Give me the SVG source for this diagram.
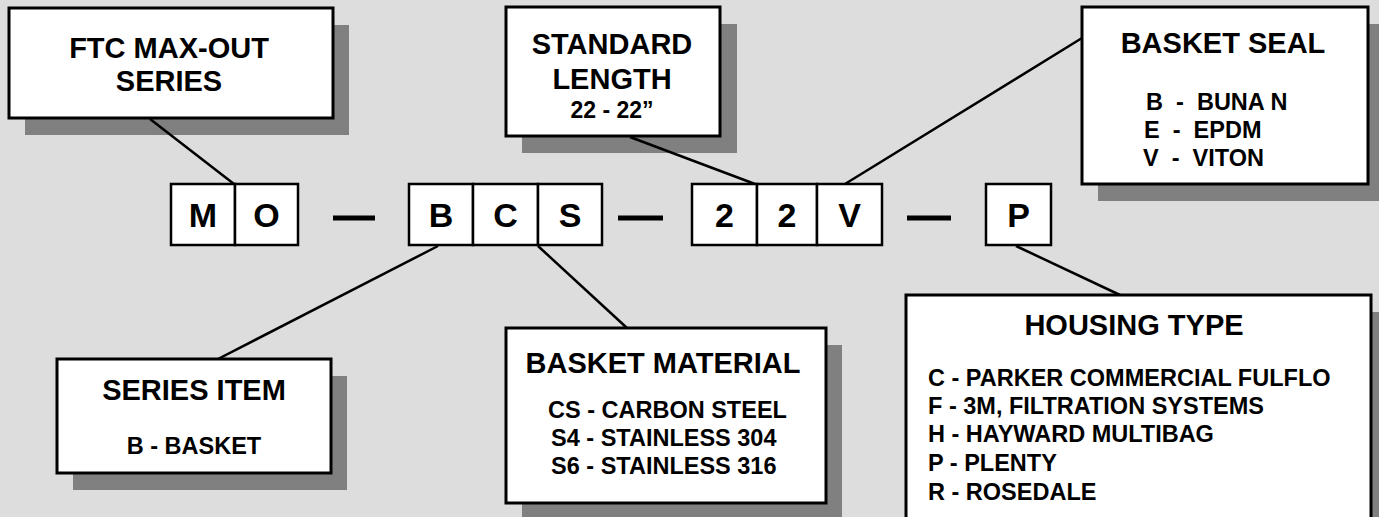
<svg xmlns="http://www.w3.org/2000/svg" width="1379" height="517" viewBox="0 0 1379 517">
<style>
.bg{fill:#dddddd}
.sh{fill:#808080}
.box{fill:#ffffff;stroke:#000000;stroke-width:3}
.cbox{fill:#ffffff;stroke:#000000;stroke-width:2.5}
.t{font-family:"Liberation Sans",Arial,sans-serif;font-weight:bold;fill:#000000}
.title{font-size:29px;text-anchor:middle}
.item{font-size:23.5px}
.code{font-size:34px;text-anchor:middle}
.con{stroke:#000000;stroke-width:2.5;fill:none}
.dash{stroke:#000000;stroke-width:5}
</style>
<rect class="bg" x="0" y="0" width="1379" height="517"/>

<g id="ftc">
<rect class="sh" x="25" y="25" width="324" height="110"/>
<rect class="box" x="9" y="8" width="324" height="110"/>
<text class="t title" x="169" y="58">FTC MAX-OUT</text>
<text class="t title" x="169" y="91">SERIES</text>
</g>

<g id="standard-length">
<rect class="sh" x="522" y="24" width="215" height="129"/>
<rect class="box" x="506" y="7" width="214" height="129"/>
<text class="t title" x="612" y="54">STANDARD</text>
<text class="t title" x="612" y="89">LENGTH</text>
<text class="t" x="612" y="118" font-size="23" text-anchor="middle">22 - 22”</text>
</g>

<g id="basket-seal">
<rect class="sh" x="1098" y="24" width="286" height="177"/>
<rect class="box" x="1082" y="7" width="286" height="177"/>
<text class="t title" x="1223" y="53">BASKET SEAL</text>
<text class="t item" x="1146" y="110" xml:space="preserve">B  -  BUNA N</text>
<text class="t item" x="1144" y="138" xml:space="preserve">E  -  EPDM</text>
<text class="t item" x="1143" y="166" xml:space="preserve">V  -  VITON</text>
</g>

<g id="series-item">
<rect class="sh" x="73" y="376" width="274" height="114"/>
<rect class="box" x="57" y="359" width="274" height="114"/>
<text class="t title" x="194" y="400">SERIES ITEM</text>
<text class="t" x="194" y="454" font-size="23.5" text-anchor="middle">B - BASKET</text>
</g>

<g id="basket-material">
<rect class="sh" x="522" y="345" width="320" height="175"/>
<rect class="box" x="506" y="328" width="320" height="175"/>
<text class="t title" x="663" y="373">BASKET MATERIAL</text>
<text class="t item" x="548" y="418">CS - CARBON STEEL</text>
<text class="t item" x="551" y="446">S4 - STAINLESS 304</text>
<text class="t item" x="551" y="474">S6 - STAINLESS 316</text>
</g>

<g id="housing-type">
<rect class="sh" x="922" y="312" width="465" height="230"/>
<rect class="box" x="906" y="295" width="465" height="240"/>
<text class="t title" x="1134" y="335">HOUSING TYPE</text>
<text class="t item" x="928" y="386">C - PARKER COMMERCIAL FULFLO</text>
<text class="t item" x="928" y="414">F - 3M, FILTRATION SYSTEMS</text>
<text class="t item" x="928" y="442">H - HAYWARD MULTIBAG</text>
<text class="t item" x="928" y="471">P - PLENTY</text>
<text class="t item" x="928" y="500">R - ROSEDALE</text>
</g>

<g id="code-mo">
<rect class="cbox" x="171" y="184" width="64" height="61"/>
<rect class="cbox" x="235" y="184" width="63" height="61"/>
<text class="t code" x="203" y="227">M</text>
<text class="t code" x="266.5" y="227">O</text>
</g>

<g id="code-bcs">
<rect class="cbox" x="409" y="184" width="64" height="61"/>
<rect class="cbox" x="473" y="184" width="65" height="61"/>
<rect class="cbox" x="538" y="184" width="64" height="61"/>
<text class="t code" x="441" y="227">B</text>
<text class="t code" x="505.5" y="227">C</text>
<text class="t code" x="570" y="227">S</text>
</g>

<g id="code-22v">
<rect class="cbox" x="692" y="184" width="65" height="61"/>
<rect class="cbox" x="757" y="184" width="60" height="61"/>
<rect class="cbox" x="817" y="184" width="65" height="61"/>
<text class="t code" x="724.5" y="227">2</text>
<text class="t code" x="787" y="227">2</text>
<text class="t code" x="849.5" y="227">V</text>
</g>

<g id="code-p">
<rect class="cbox" x="986" y="184" width="65" height="61"/>
<text class="t code" x="1018.5" y="227">P</text>
</g>

<g id="connectors">
<line class="dash" x1="333" y1="218" x2="375" y2="218"/>
<line class="dash" x1="618" y1="218" x2="663" y2="218"/>
<line class="dash" x1="907" y1="218" x2="951" y2="218"/>
<line class="con" x1="150" y1="119" x2="234" y2="184"/>
<line class="con" x1="630" y1="137" x2="755" y2="184"/>
<line class="con" x1="845" y1="184" x2="1082" y2="38"/>
<line class="con" x1="438" y1="246" x2="218" y2="359"/>
<line class="con" x1="538" y1="246" x2="627" y2="328"/>
<line class="con" x1="1016" y1="246" x2="1120" y2="295"/>
</g>
</svg>
